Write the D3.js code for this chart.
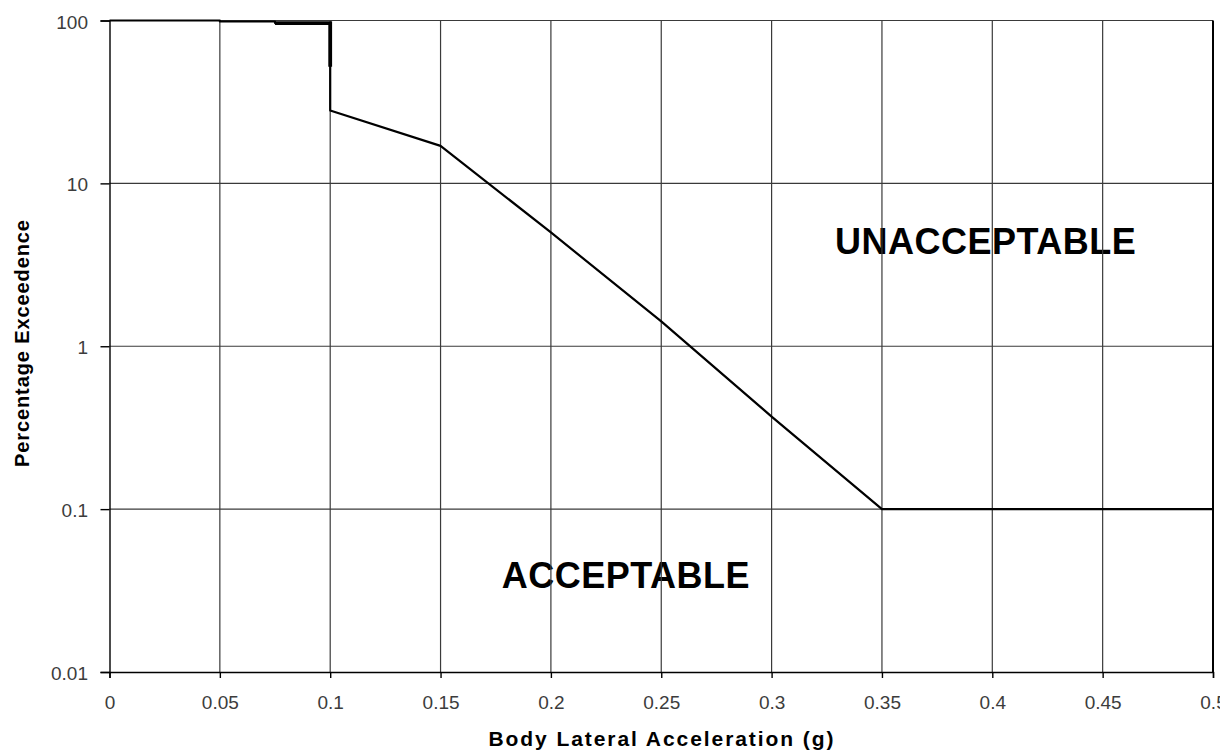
<!DOCTYPE html>
<html>
<head>
<meta charset="utf-8">
<script src="https://cdn.jsdelivr.net/npm/d3@7"></script>
<style>
  html, body { margin: 0; padding: 0; background: #fff; }
  svg { display: block; }
</style>
</head>
<body>
<svg id="chart" width="1220" height="751"></svg>
<script>
// ---- data ----
const xTicks = [0, 0.05, 0.1, 0.15, 0.2, 0.25, 0.3, 0.35, 0.4, 0.45, 0.5];
const xTickLabels = ["0", "0.05", "0.1", "0.15", "0.2", "0.25", "0.3", "0.35", "0.4", "0.45", "0.5"];
const yTicks = [100, 10, 1, 0.1, 0.01];
const yTickLabels = ["100", "10", "1", "0.1", "0.01"];

// limit curve (acceleration g, percentage exceedence)
const curveX = [0, 0.05, 0.05, 0.075, 0.075, 0.1, 0.1, 0.1, 0.15, 0.2, 0.25, 0.3, 0.35, 0.5];
const curveY = [100, 100, 98.6, 98.6, 96.4, 96.4, 52, 28, 17, 5, 1.42, 0.37, 0.1, 0.1];
// overlapping heavier stretch near 0.1 g
const overlapX = [0.075, 0.1, 0.1];
const overlapY = [96.4, 96.4, 52];

const regionLabels = ["UNACCEPTABLE", "ACCEPTABLE"];
const regionX = [0.397, 0.234];
const regionY = [3.68, 0.0328];

const xTitle = "Body Lateral Acceleration (g)";
const yTitle = "Percentage Exceedence";

// ---- layout ----
const svg = d3.select("#chart");
const pL = 109.5, pR = 1213, pT = 20.5, pB = 672;

const x = d3.scaleLinear().domain([0, 0.5]).range([pL, pR]);
const y = d3.scaleLog().domain([0.01, 100]).range([pB, pT]);

const font = "'Liberation Sans', Arial, sans-serif";

// region labels (under grid)
svg.append("g").selectAll("text").data(regionLabels).join("text")
  .attr("x", (d, i) => x(regionX[i]))
  .attr("y", (d, i) => y(regionY[i]))
  .attr("text-anchor", "middle")
  .attr("font-family", font)
  .attr("font-weight", "bold")
  .attr("font-size", 36)
  .attr("letter-spacing", 0.5)
  .attr("fill", "#000")
  .text(d => d);

// grid
const grid = svg.append("g");
grid.selectAll("line.v").data(xTicks.slice(1, -1)).join("line")
  .attr("x1", d => x(d)).attr("x2", d => x(d))
  .attr("y1", pT).attr("y2", pB)
  .attr("stroke", "#3a3a3a").attr("stroke-width", 1.2);
grid.selectAll("line.h").data(yTicks.slice(0, -1)).join("line")
  .attr("x1", pL).attr("x2", pR)
  .attr("y1", d => y(d)).attr("y2", d => y(d))
  .attr("stroke", "#3a3a3a").attr("stroke-width", 1.2);
// right border
svg.append("line")
  .attr("x1", pR).attr("x2", pR).attr("y1", pT).attr("y2", pB)
  .attr("stroke", "#000").attr("stroke-width", 2);

// axes
const xAxis = d3.axisBottom(x).tickValues(xTicks).tickFormat((d, i) => xTickLabels[i]).tickSize(6);
const gx = svg.append("g").attr("transform", `translate(0,${pB})`).call(xAxis);
const yAxis = d3.axisLeft(y).tickValues(yTicks).tickFormat((d, i) => yTickLabels[i]).tickSize(9);
const gy = svg.append("g").attr("transform", `translate(${pL},0)`).call(yAxis);

[gx, gy].forEach(g => {
  g.select(".domain").attr("stroke", "#000").attr("stroke-width", 1.4);
  g.selectAll(".tick line").attr("stroke", "#000").attr("stroke-width", 1.4);
  g.selectAll(".tick text").attr("font-family", font).attr("font-size", 19).attr("fill", "#3c3c3c");
});
gx.selectAll(".tick text").attr("y", 37).attr("dy", 0);
gy.selectAll(".tick text").attr("x", -21.5).attr("dy", 7.5);

// curve
const line = d3.line().x(d => x(d[0])).y(d => y(d[1]));
svg.append("path")
  .datum(curveX.map((v, i) => [v, curveY[i]]))
  .attr("d", line)
  .attr("fill", "none").attr("stroke", "#000").attr("stroke-width", 2.2)
  .attr("stroke-linejoin", "round");
svg.append("path")
  .datum(overlapX.map((v, i) => [v, overlapY[i]]))
  .attr("d", line)
  .attr("fill", "none").attr("stroke", "#000").attr("stroke-width", 3.8);

// axis titles
svg.append("text")
  .attr("x", 661).attr("y", 746)
  .attr("text-anchor", "middle")
  .attr("font-family", font).attr("font-weight", "bold").attr("font-size", 21)
  .attr("textLength", 345).attr("lengthAdjust", "spacing")
  .text(xTitle);
svg.append("text")
  .attr("transform", `translate(29,343.5) rotate(-90)`)
  .attr("text-anchor", "middle")
  .attr("font-family", font).attr("font-weight", "bold").attr("font-size", 20)
  .attr("textLength", 247).attr("lengthAdjust", "spacing")
  .text(yTitle);
</script>
</body>
</html>
